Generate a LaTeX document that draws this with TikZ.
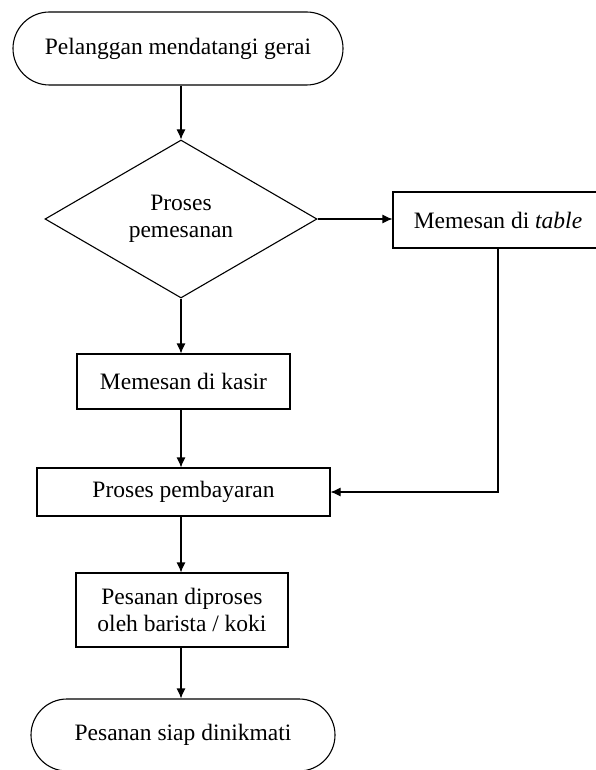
\documentclass[tikz,border=0pt]{standalone}
\usepackage{fontspec}
\setmainfont{Liberation Serif}
\usetikzlibrary{arrows.meta,shapes.geometric,shapes.misc}

\begin{document}
\begin{tikzpicture}[x=1pt,y=-1pt,line width=1.1pt,
  font=\fontsize{23.5}{27}\selectfont,
  terminal/.style={draw,rounded rectangle,inner sep=0pt},
  kotak/.style={draw,rectangle,inner sep=0pt,align=center},
  keputusan/.style={draw,diamond,inner sep=0pt,align=center},
  panah/.style={-{Latex[length=10pt,width=9pt]}}]
\useasboundingbox (0,0) rectangle (595,770);
\node[terminal,minimum width=330pt,minimum height=73pt] (mulai) at (178,48.5) {Pelanggan mendatangi gerai};
\node[keputusan,minimum width=272pt,minimum height=158pt] (pesan) at (181,219) {Proses\\pemesanan};
\node[kotak,minimum width=210pt,minimum height=56pt] (meja) at (498,220) {Memesan di \textit{table}};
\node[kotak,minimum width=213pt,minimum height=55pt] (kasir) at (183.5,381.5) {Memesan di kasir};
\node[kotak,minimum width=293pt,minimum height=48pt] (bayar) at (183.5,492) {Proses pembayaran};
\node[kotak,minimum width=212pt,minimum height=74pt] (olah) at (182,610) {Pesanan diproses\\oleh barista / koki};
\node[terminal,minimum width=304pt,minimum height=72pt] (selesai) at (183,735) {Pesanan siap dinikmati};
\draw[panah] (mulai.south -| pesan.north) -- (pesan.north);
\draw[panah] (pesan.east) -- (pesan.east -| meja.west);
\draw[panah] (pesan.south) -- (pesan.south |- kasir.north);
\draw[panah] (kasir.south -| pesan.south) -- (pesan.south |- bayar.north);
\draw[panah] (meja) |- (bayar.east);
\draw[panah] (bayar.south -| pesan.south) -- (pesan.south |- olah.north);
\draw[panah] (olah.south -| pesan.south) -- (pesan.south |- selesai.north);
\end{tikzpicture}
\end{document}
